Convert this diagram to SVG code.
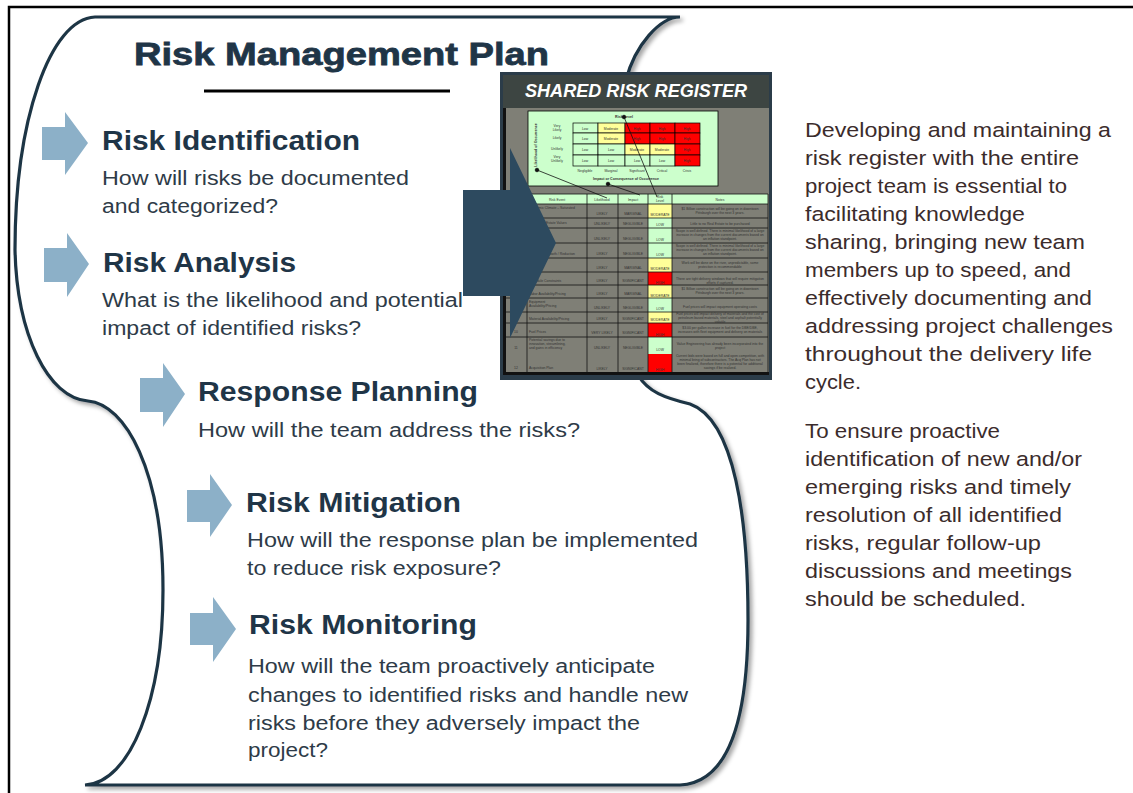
<svg xmlns="http://www.w3.org/2000/svg" width="1133" height="793" viewBox="0 0 1133 793">
<defs>
<filter id="sh" x="-10%" y="-10%" width="120%" height="120%"><feDropShadow dx="3" dy="3" stdDeviation="2" flood-color="#000" flood-opacity="0.35"/></filter>
<style>
.ttl{font-family:"Liberation Sans",Arial,sans-serif;font-weight:bold;fill:#1f3547;stroke:#1f3547;stroke-width:0.8}
.hd{font-family:"Liberation Sans",Arial,sans-serif;font-weight:bold;font-size:27px;fill:#1f3547}
.bd{font-family:"Liberation Sans",Arial,sans-serif;font-size:20px;fill:#2e3b48}
.rt{font-family:"Liberation Sans",Arial,sans-serif;font-size:20.5px;fill:#3b2c2c}
.la{fill:#8cb0c8}
.t{font-family:"Liberation Sans",Arial,sans-serif;font-size:3.4px;fill:#333}
.tb{font-family:"Liberation Sans",Arial,sans-serif;font-size:3.6px;font-weight:bold;fill:#333}
.g{fill:#ccffcc;stroke:#000;stroke-width:0.7}
.y{fill:#ffff99;stroke:#000;stroke-width:0.7}
.r{fill:#ff0000;stroke:#000;stroke-width:0.7}
.ln{stroke:#111;stroke-width:0.8}
</style>
</defs>
<rect x="0" y="0" width="1133" height="793" fill="#fff"/>
<rect x="9" y="7" width="1130" height="800" fill="none" stroke="#000" stroke-width="2.5"/>

<g id="scroll">
<path d="M626,80 C635,45 660,17 680,17 L95,17 C50,19 15,120 15,250 C17,335 48,398 88,401 C125,404 163,470 163,590 C163,700 130,783 85,785 L680,785 C725,783 748,730 748,620 C748,520 735,420 690,404 C665,398 648,392 638,375 Z" fill="#fff" stroke="#1e3444" stroke-width="3.2" filter="url(#sh)"/>
</g>

<g id="title">
<text class="ttl" x="134" y="65" font-size="32" textLength="415" lengthAdjust="spacingAndGlyphs">Risk Management Plan</text>
<line x1="204" y1="91" x2="450" y2="91" stroke="#000" stroke-width="3"/>
</g>

<g id="step-identification">
<polygon class="la" points="42,127 65,127 65,112 88,143 65,175 65,160 42,160"/>
<text class="hd" x="102" y="150" textLength="258" lengthAdjust="spacingAndGlyphs">Risk Identification</text>
<text class="bd" x="102" y="185" textLength="307" lengthAdjust="spacingAndGlyphs">How will risks be documented</text>
<text class="bd" x="102" y="213" textLength="176" lengthAdjust="spacingAndGlyphs">and categorized?</text>
</g>

<g id="step-analysis">
<polygon class="la" points="44,248 67,248 67,233 89,264 67,297 67,282 44,282"/>
<text class="hd" x="103" y="272" textLength="193" lengthAdjust="spacingAndGlyphs">Risk Analysis</text>
<text class="bd" x="102" y="307" textLength="361" lengthAdjust="spacingAndGlyphs">What is the likelihood and potential</text>
<text class="bd" x="102" y="335" textLength="259" lengthAdjust="spacingAndGlyphs">impact of identified risks?</text>
</g>

<g id="step-response">
<polygon class="la" points="140,378 163,378 163,363 185,394 163,427 163,412 140,412"/>
<text class="hd" x="198" y="401" textLength="280" lengthAdjust="spacingAndGlyphs">Response Planning</text>
<text class="bd" x="198" y="437" textLength="382" lengthAdjust="spacingAndGlyphs">How will the team address the risks?</text>
</g>

<g id="step-mitigation">
<polygon class="la" points="187,490 210,490 210,474 232,505 210,537 210,522 187,522"/>
<text class="hd" x="246" y="512" textLength="215" lengthAdjust="spacingAndGlyphs">Risk Mitigation</text>
<text class="bd" x="247" y="547" textLength="451" lengthAdjust="spacingAndGlyphs">How will the response plan be implemented</text>
<text class="bd" x="247" y="575" textLength="254" lengthAdjust="spacingAndGlyphs">to reduce risk exposure?</text>
</g>

<g id="step-monitoring">
<polygon class="la" points="190,613 213,613 213,597 236,629 213,662 213,645 190,645"/>
<text class="hd" x="249" y="634" textLength="228" lengthAdjust="spacingAndGlyphs">Risk Monitoring</text>
<text class="bd" x="248" y="673" textLength="407" lengthAdjust="spacingAndGlyphs">How will the team proactively anticipate</text>
<text class="bd" x="248" y="702" textLength="440" lengthAdjust="spacingAndGlyphs">changes to identified risks and handle new</text>
<text class="bd" x="248" y="730" textLength="392" lengthAdjust="spacingAndGlyphs">risks before they adversely impact the</text>
<text class="bd" x="248" y="757" textLength="80" lengthAdjust="spacingAndGlyphs">project?</text>
</g>

<g id="register">
<rect x="500" y="72" width="272" height="308" fill="#2b3c49"/>
<rect x="503" y="75" width="266" height="33" fill="#3d4542"/>
<text x="636" y="97" text-anchor="middle" font-family="Liberation Sans, Arial, sans-serif" font-size="19" font-weight="bold" font-style="italic" fill="#fff" textLength="222" lengthAdjust="spacingAndGlyphs">SHARED RISK REGISTER</text>
<rect x="503" y="108" width="266" height="266" fill="#7f7f76"/>
<rect x="503" y="108" width="3" height="266" fill="#111"/>
<rect x="503" y="372" width="266" height="3" fill="#111"/>
<rect x="528" y="111" width="190" height="75" fill="#ccffcc" stroke="#000" stroke-width="0.8"/>
<text class="tb" x="624" y="118" text-anchor="middle">Risk Level</text>
<text class="tb" x="537" y="145" text-anchor="middle" transform="rotate(-90 537 145)">Likelihood of Occurrence</text>
<text class="t" x="557" y="127" text-anchor="middle">Very</text>
<text class="t" x="557" y="131" text-anchor="middle">Likely</text>
<text class="t" x="557" y="139" text-anchor="middle">Likely</text>
<text class="t" x="557" y="150" text-anchor="middle">Unlikely</text>
<text class="t" x="557" y="158" text-anchor="middle">Very</text>
<text class="t" x="557" y="162" text-anchor="middle">Unlikely</text>
<rect class="g" x="573" y="123" width="25" height="10"/><rect class="y" x="598" y="123" width="27" height="10"/><rect class="r" x="625" y="123" width="25" height="10"/><rect class="r" x="650" y="123" width="25" height="10"/><rect class="r" x="675" y="123" width="25" height="10"/>
<rect class="g" x="573" y="133" width="25" height="11"/><rect class="y" x="598" y="133" width="27" height="11"/><rect class="r" x="625" y="133" width="25" height="11"/><rect class="r" x="650" y="133" width="25" height="11"/><rect class="r" x="675" y="133" width="25" height="11"/>
<rect class="g" x="573" y="144" width="25" height="11"/><rect class="g" x="598" y="144" width="27" height="11"/><rect class="y" x="625" y="144" width="25" height="11"/><rect class="y" x="650" y="144" width="25" height="11"/><rect class="r" x="675" y="144" width="25" height="11"/>
<rect class="g" x="573" y="155" width="25" height="11"/><rect class="g" x="598" y="155" width="27" height="11"/><rect class="g" x="625" y="155" width="25" height="11"/><rect class="g" x="650" y="155" width="25" height="11"/><rect class="r" x="675" y="155" width="25" height="11"/>
<g class="t" text-anchor="middle">
<text x="585" y="129.5">Low</text><text x="611" y="129.5">Moderate</text><text x="637" y="129.5">High</text><text x="662" y="129.5">High</text><text x="687" y="129.5">High</text>
<text x="585" y="140">Low</text><text x="611" y="140">Moderate</text><text x="637" y="140">High</text><text x="662" y="140">High</text><text x="687" y="140">High</text>
<text x="585" y="151">Low</text><text x="611" y="151">Low</text><text x="637" y="151">Moderate</text><text x="662" y="151">Moderate</text><text x="687" y="151">High</text>
<text x="585" y="162">Low</text><text x="611" y="162">Low</text><text x="637" y="162">Low</text><text x="662" y="162">Low</text><text x="687" y="162">High</text>
<text x="585" y="172">Negligible</text><text x="611" y="172">Marginal</text><text x="637" y="172">Significant</text><text x="662" y="172">Critical</text><text x="687" y="172">Crisis</text>
</g>
<text class="tb" x="626" y="180" text-anchor="middle">Impact or Consequence of Occurrence</text>
<rect x="506" y="194" width="262" height="10" fill="#ccffcc"/>
<rect x="648" y="204" width="24" height="14" fill="#ffff99"/>
<rect x="648" y="218" width="24" height="10" fill="#ccffcc"/>
<rect x="648" y="228" width="24" height="15" fill="#ccffcc"/>
<rect x="648" y="243" width="24" height="15" fill="#ccffcc"/>
<rect x="648" y="258" width="24" height="14" fill="#ffff99"/>
<rect x="648" y="272" width="24" height="13" fill="#ff0000"/>
<rect x="648" y="285" width="24" height="13" fill="#ffff99"/>
<rect x="648" y="298" width="24" height="14" fill="#ccffcc"/>
<rect x="648" y="312" width="24" height="11" fill="#ffff99"/>
<rect x="648" y="323" width="24" height="14" fill="#ff0000"/>
<rect x="648" y="337" width="24" height="17" fill="#ccffcc"/>
<rect x="648" y="354" width="24" height="18" fill="#ff0000"/>
<g class="ln">
<line x1="506" y1="194" x2="768" y2="194"/><line x1="506" y1="204" x2="768" y2="204"/>
<line x1="506" y1="218" x2="768" y2="218"/><line x1="506" y1="228" x2="768" y2="228"/>
<line x1="506" y1="243" x2="768" y2="243"/><line x1="506" y1="258" x2="768" y2="258"/>
<line x1="506" y1="272" x2="768" y2="272"/><line x1="506" y1="285" x2="768" y2="285"/>
<line x1="506" y1="298" x2="768" y2="298"/><line x1="506" y1="312" x2="768" y2="312"/>
<line x1="506" y1="323" x2="768" y2="323"/><line x1="506" y1="337" x2="768" y2="337"/>
<line x1="527" y1="194" x2="527" y2="372"/><line x1="587" y1="194" x2="587" y2="372"/>
<line x1="618" y1="194" x2="618" y2="372"/><line x1="648" y1="194" x2="648" y2="372"/>
<line x1="672" y1="194" x2="672" y2="372"/><line x1="768" y1="194" x2="768" y2="372"/>
</g>
<g class="t">
<text x="557" y="200.5" text-anchor="middle">Risk Event</text><text x="602" y="200.5" text-anchor="middle">Likelihood</text><text x="633" y="200.5" text-anchor="middle">Impact</text><text x="660" y="198" text-anchor="middle">Risk</text><text x="660" y="202" text-anchor="middle">Level</text><text x="720" y="200.5" text-anchor="middle">Notes</text>
<text x="529" y="209">Economic Climate – Saturated</text><text x="529" y="213">Market</text>
<text x="529" y="224">Local Real Estate Values</text>
<text x="529" y="240">Inflation</text>
<text x="529" y="255">Population Growth / Reduction</text>
<text x="529" y="269">Weather</text>
<text x="529" y="282">Schedule Constraints</text>
<text x="529" y="295">Labor Availability/Pricing</text>
<text x="529" y="303">Equipment</text><text x="529" y="307">Availability/Pricing</text>
<text x="529" y="320">Material Availability/Pricing</text>
<text x="529" y="333">Fuel Prices</text>
<text x="529" y="341">Potential savings due to</text><text x="529" y="345">innovation, streamlining,</text><text x="529" y="349">and gains in efficiency</text>
<text x="529" y="369">Acquisition Plan</text>
<text x="516" y="333" text-anchor="middle">10</text><text x="516" y="349" text-anchor="middle">11</text><text x="516" y="369" text-anchor="middle">12</text>
<g text-anchor="middle">
<text x="602" y="215">LIKELY</text><text x="633" y="215">MARGINAL</text><text x="660" y="216">MODERATE</text>
<text x="602" y="225">UNLIKELY</text><text x="633" y="225">NEGLIGIBLE</text><text x="660" y="226">LOW</text>
<text x="602" y="240">UNLIKELY</text><text x="633" y="240">NEGLIGIBLE</text><text x="660" y="241">LOW</text>
<text x="602" y="255">LIKELY</text><text x="633" y="255">NEGLIGIBLE</text><text x="660" y="256">LOW</text>
<text x="602" y="269">LIKELY</text><text x="633" y="269">MARGINAL</text><text x="660" y="270">MODERATE</text>
<text x="602" y="282">LIKELY</text><text x="633" y="282">SIGNIFICANT</text><text x="660" y="284">HIGH</text>
<text x="602" y="295">LIKELY</text><text x="633" y="295">MARGINAL</text><text x="660" y="297">MODERATE</text>
<text x="602" y="309">UNLIKELY</text><text x="633" y="309">NEGLIGIBLE</text><text x="660" y="310">LOW</text>
<text x="602" y="320">LIKELY</text><text x="633" y="320">SIGNIFICANT</text><text x="660" y="321">MODERATE</text>
<text x="602" y="334">VERY LIKELY</text><text x="633" y="334">SIGNIFICANT</text><text x="660" y="336">HIGH</text>
<text x="602" y="349">UNLIKELY</text><text x="633" y="349">NEGLIGIBLE</text><text x="660" y="351">LOW</text>
<text x="602" y="370">LIKELY</text><text x="633" y="370">SIGNIFICANT</text><text x="660" y="371">HIGH</text>
<text x="720" y="210">$1 Billion construction will be going on in downtown</text><text x="720" y="214">Pittsburgh over the next 3 years.</text>
<text x="720" y="225">Little to no Real Estate to be purchased</text>
<text x="720" y="232">Scope is well defined. There is minimal likelihood of a large</text><text x="720" y="236">increase in changes from the current documents based on</text><text x="720" y="240">an inflation standpoint.</text>
<text x="720" y="247">Scope is well defined. There is minimal likelihood of a large</text><text x="720" y="251">increase in changes from the current documents based on</text><text x="720" y="255">an inflation standpoint.</text>
<text x="720" y="264">Work will be done on the river, unpredictable, some</text><text x="720" y="268">protection is recommendable</text>
<text x="720" y="280">There are tight delivery windows that will require mitigation</text><text x="720" y="284">efforts if captured.</text>
<text x="720" y="290">$1 Billion construction will be going on in downtown</text><text x="720" y="294">Pittsburgh over the next 3 years.</text>
<text x="720" y="308">Fuel prices will impact equipment operating costs</text>
<text x="720" y="315">Fuel prices will impact delivery of materials and the cost of</text><text x="720" y="319">petroleum based materials, steel and asphalt potentially</text><text x="720" y="322.5">volatile</text>
<text x="720" y="329">$3.00 per gallon increase in fuel for the DBE/DBE,</text><text x="720" y="333">increases with fleet equipment and delivery on materials</text>
<text x="720" y="345">Value Engineering has already been incorporated into the</text><text x="720" y="349">project</text>
<text x="720" y="357">Current bids were based on full and open competition, with</text><text x="720" y="361">minimal bring of subcontractors. The Acq Plan has not</text><text x="720" y="365">been finalized, therefore there is a potential for additional</text><text x="720" y="369">savings if be realized.</text>
</g>
</g>
<g stroke="#111" stroke-width="0.8" fill="#111">
<line x1="624" y1="117" x2="657" y2="197"/><circle cx="624" cy="117" r="1.8"/>
<line x1="537" y1="170" x2="607" y2="198"/><circle cx="537" cy="170" r="1.8"/>
<line x1="608" y1="184" x2="640" y2="195"/><circle cx="608" cy="184" r="1.8"/>
</g>
</g>

<g id="connectors">
<polygon points="463,190 510,190 510,148 556,243 510,338 510,296 463,296" fill="#2d4a5f"/>
</g>

<g id="description">
<text class="rt" x="805" y="137" textLength="306" lengthAdjust="spacingAndGlyphs">Developing and maintaining a</text>
<text class="rt" x="805" y="165" textLength="274" lengthAdjust="spacingAndGlyphs">risk register with the entire</text>
<text class="rt" x="805" y="193" textLength="262" lengthAdjust="spacingAndGlyphs">project team is essential to</text>
<text class="rt" x="805" y="221" textLength="220" lengthAdjust="spacingAndGlyphs">facilitating knowledge</text>
<text class="rt" x="805" y="249" textLength="280" lengthAdjust="spacingAndGlyphs">sharing, bringing new team</text>
<text class="rt" x="805" y="277" textLength="266" lengthAdjust="spacingAndGlyphs">members up to speed, and</text>
<text class="rt" x="805" y="305" textLength="287" lengthAdjust="spacingAndGlyphs">effectively documenting and</text>
<text class="rt" x="805" y="333" textLength="308" lengthAdjust="spacingAndGlyphs">addressing project challenges</text>
<text class="rt" x="805" y="361" textLength="287" lengthAdjust="spacingAndGlyphs">throughout the delivery life</text>
<text class="rt" x="805" y="389" textLength="56" lengthAdjust="spacingAndGlyphs">cycle.</text>
<text class="rt" x="805" y="438" textLength="195" lengthAdjust="spacingAndGlyphs">To ensure proactive</text>
<text class="rt" x="805" y="466" textLength="277" lengthAdjust="spacingAndGlyphs">identification of new and/or</text>
<text class="rt" x="805" y="494" textLength="266" lengthAdjust="spacingAndGlyphs">emerging risks and timely</text>
<text class="rt" x="805" y="522" textLength="257" lengthAdjust="spacingAndGlyphs">resolution of all identified</text>
<text class="rt" x="805" y="550" textLength="236" lengthAdjust="spacingAndGlyphs">risks, regular follow-up</text>
<text class="rt" x="805" y="578" textLength="267" lengthAdjust="spacingAndGlyphs">discussions and meetings</text>
<text class="rt" x="805" y="606" textLength="221" lengthAdjust="spacingAndGlyphs">should be scheduled.</text>
</g>
</svg>
